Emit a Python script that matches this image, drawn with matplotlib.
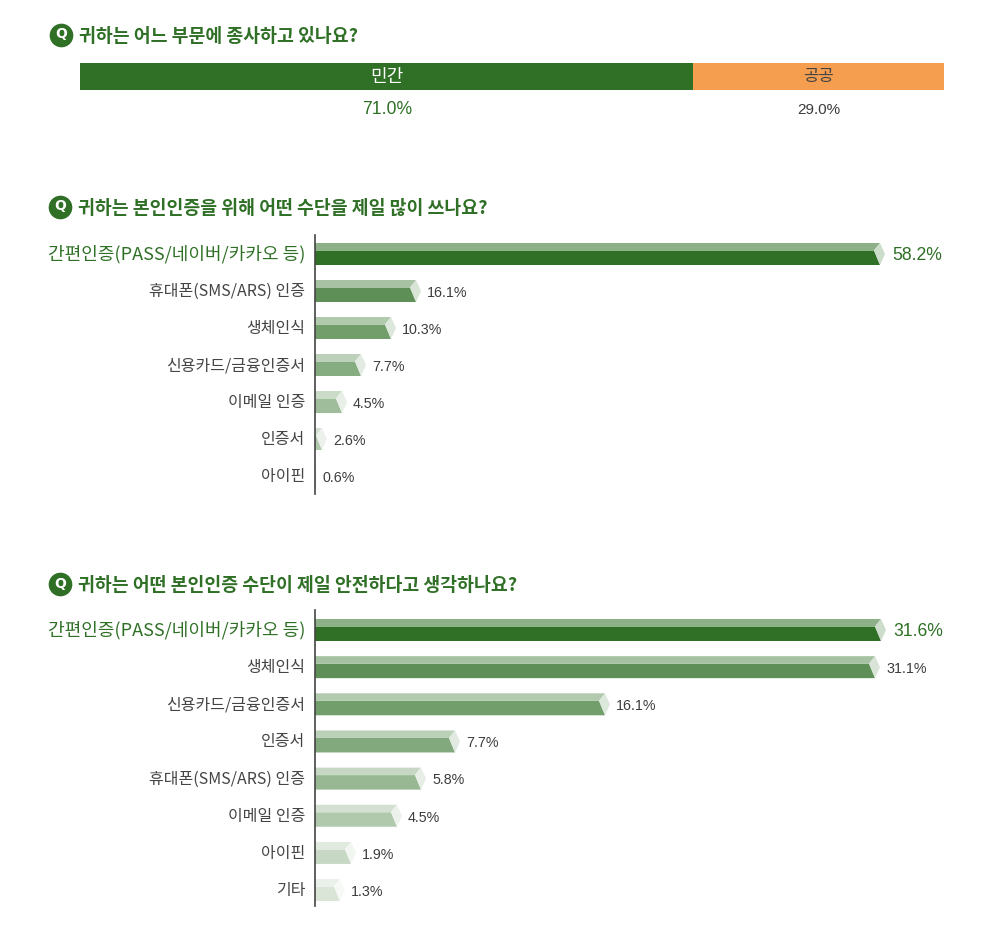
import matplotlib
matplotlib.use("Agg")
import matplotlib.pyplot as plt
from matplotlib.colors import to_rgb
from matplotlib.patches import Polygon

plt.rcParams['font.family'] = ['Noto Sans CJK KR', 'DejaVu Sans']

W, H = 1000, 934
GREEN = '#2f7026'
ORANGE = '#f59e50'
GREY = '#3c3c3c'
NUM_FONT = 'Liberation Sans'

# Question 1
sector_names = ['민간', '공공']
sector_values = [71.0, 29.0]

# Question 2
means_cats = ['간편인증(PASS/네이버/카카오 등)', '휴대폰(SMS/ARS) 인증', '생체인식',
              '신용카드/금융인증서', '이메일 인증', '인증서', '아이핀']
means_values = [58.2, 16.1, 10.3, 7.7, 4.5, 2.6, 0.6]
# drawn length of each bar, the picture does not draw them to scale
means_drawn = [565, 101, 76, 46, 27, 7, 1]

# Question 3
safe_cats = ['간편인증(PASS/네이버/카카오 등)', '생체인식', '신용카드/금융인증서', '인증서',
             '휴대폰(SMS/ARS) 인증', '이메일 인증', '아이핀', '기타']
safe_values = [31.6, 31.1, 16.1, 7.7, 5.8, 4.5, 1.9, 1.3]
safe_drawn = [566, 560, 290, 140, 106, 82, 36, 25]

titles = ['귀하는 어느 부문에 종사하고 있나요?',
          '귀하는 본인인증을 위해 어떤 수단을 제일 많이 쓰나요?',
          '귀하는 어떤 본인인증 수단이 제일 안전하다고 생각하나요?']

means_shade = [1.0, 0.78, 0.68, 0.58, 0.46, 0.38, 0.3]
safe_shade = [1.0, 0.78, 0.68, 0.6, 0.5, 0.38, 0.27, 0.18]


def tint(color, amount):
    r, g, b = to_rgb(color)
    return (1 - amount * (1 - r), 1 - amount * (1 - g), 1 - amount * (1 - b))


def add_axes_px(fig, x0, y0, x1, y1):
    return fig.add_axes([x0 / W, 1 - y1 / H, (x1 - x0) / W, (y1 - y0) / H])


def draw_bars(ax, cats, values, drawn, shades, pitch):
    half = 11 / pitch
    split = -half + 7.5 / pitch
    for i, (val, n, s) in enumerate(zip(values, drawn, shades)):
        slant = min(6, n * 0.85)
        tip = min(5, n * 0.7)
        front = tint(GREEN, s)
        top = tint(GREEN, s * 0.55)
        end = tint(GREEN, s * 0.24)
        ax.add_patch(Polygon([(0, i + split), (n - slant, i + split), (n, i + half), (0, i + half)],
                             fc=front, ec='none'))
        ax.add_patch(Polygon([(0, i - half), (n, i - half), (n - slant, i + split), (0, i + split)],
                             fc=top, ec='none'))
        ax.add_patch(Polygon([(n, i - half), (n + tip, i), (n, i + half), (n - slant, i + split)],
                             fc=end, ec='none'))
        first = i == 0
        ax.text(n + tip + (7 if first else 6), i + 0.05, f'{val:.1f}%', va='center', ha='left',
                color=GREEN if first else GREY, fontsize=12.7 if first else 10.3, family=NUM_FONT)
    # labels sit slightly above the bar centre
    ax.set_yticks([i - 0.04 for i in range(len(cats))])
    ax.set_yticklabels(cats, fontsize=11.5, color='#444444')
    ax.get_yticklabels()[0].set_color(GREEN)
    ax.get_yticklabels()[0].set_fontsize(13)
    ax.tick_params(axis='y', length=0, pad=7)
    ax.set_xticks([])
    for side in ['top', 'right', 'bottom']:
        ax.spines[side].set_visible(False)
    ax.spines['left'].set_color('#444444')
    ax.spines['left'].set_linewidth(1.2)
    ax.patch.set_alpha(0)


fig = plt.figure(figsize=(W / 100, H / 100), dpi=100, facecolor='white')

# section titles with the round Q badge
bg = fig.add_axes([0, 0, 1, 1])
bg.set_xlim(0, W)
bg.set_ylim(H, 0)
bg.axis('off')
for (x, y), t in zip([(61, 35), (60, 207), (60, 584)], titles):
    bg.scatter([x], [y], s=290, color=GREEN, zorder=2, linewidths=0)
    bg.text(x, y - 0.5, 'Q', color='white', fontsize=10, fontweight='bold', family='DejaVu Sans',
            ha='center', va='center', zorder=3)
    bg.text(x + 18, y + 1.5, t, color=GREEN, fontsize=13.2, fontweight='bold', ha='left', va='center')

# Q1 stacked bar
ax1 = add_axes_px(fig, 80, 63, 944, 90)
ax1.barh([0], [sector_values[0]], color=GREEN, height=1)
ax1.barh([0], [sector_values[1]], left=[sector_values[0]], color=ORANGE, height=1)
ax1.set_xlim(0, 100)
ax1.set_ylim(-0.5, 0.5)
ax1.axis('off')
ax1.text(sector_values[0] / 2, 0, sector_names[0], color='white', fontsize=13, ha='center', va='center')
ax1.text(sector_values[0] + sector_values[1] / 2, 0, sector_names[1], color='#444444', fontsize=12,
         ha='center', va='center')
ax1.text(sector_values[0] / 2, -1.24, f'{sector_values[0]:.1f}%', color=GREEN, fontsize=12.7,
         ha='center', va='center', clip_on=False, family=NUM_FONT)
ax1.text(sector_values[0] + sector_values[1] / 2, -1.24, f'{sector_values[1]:.1f}%', color=GREY,
         fontsize=11, ha='center', va='center', clip_on=False, family=NUM_FONT)

# Q2
ax2 = add_axes_px(fig, 315, 235, 1000, 494)
ax2.set_xlim(0, 685)
ax2.set_ylim((494 - 254) / 37, (235 - 254) / 37)
draw_bars(ax2, means_cats, means_values, means_drawn, means_shade, 37)

# Q3
ax3 = add_axes_px(fig, 315, 610, 1000, 906)
ax3.set_xlim(0, 685)
ax3.set_ylim((906 - 630) / 37.15, (610 - 630) / 37.15)
draw_bars(ax3, safe_cats, safe_values, safe_drawn, safe_shade, 37.15)

plt.savefig('out.png', dpi=100)
